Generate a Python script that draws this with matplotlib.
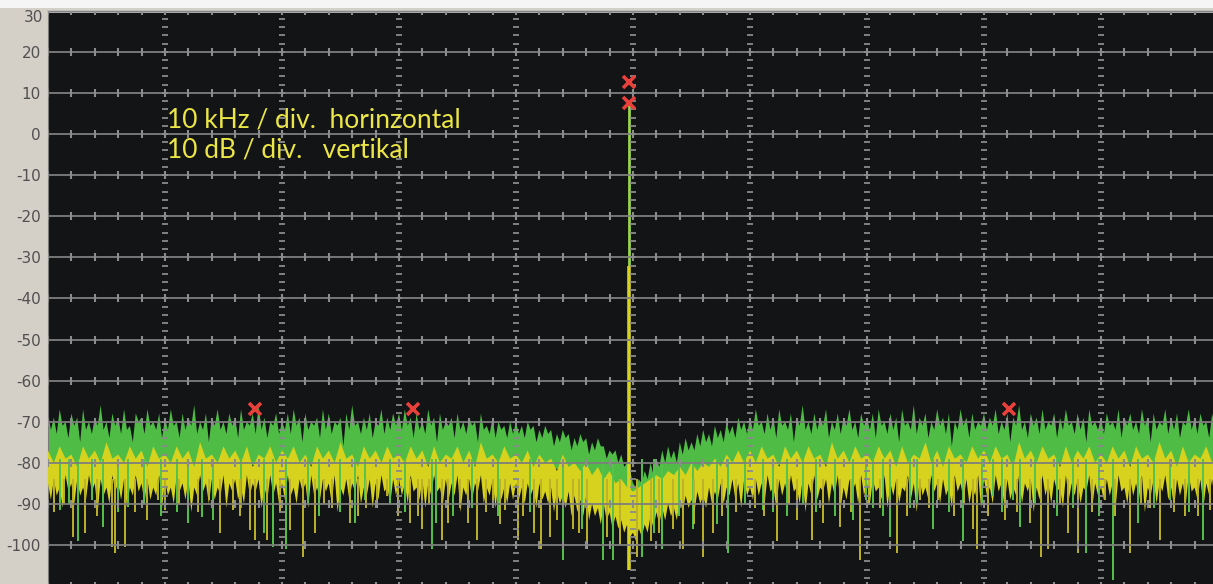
import numpy as np
import matplotlib
matplotlib.use('Agg')
from matplotlib import pyplot as plt
from matplotlib.patches import Rectangle

# frequency offset bins (kHz), levels in dB
x_q = np.arange(-50, 50.01, 0.25)      # 401 bins
x_h = np.arange(-50, 50.01, 0.5)       # 201 bins
x_c = np.arange(-50, 50.01, 1.0)       # 101 bins

# upper edge of the green trace (0.25 kHz)
green_top = [
    -68, -72, -69, -73, -67, -71, -70, -74, -68, -71, -69, -75, -67, -72, -70, -73, -69, -71, -66, -72,
    -70, -74, -68, -71, -69, -73, -67, -72, -71, -75, -68, -70, -69, -73, -67, -71, -70, -72, -68, -74,
    -69, -72, -67, -71, -70, -74, -68, -72, -69, -71, -66, -73, -70, -72, -68, -75, -69, -71, -67, -72,
    -70, -73, -68, -71, -69, -74, -67, -72, -70, -71, -68, -73, -66, -72, -69, -74, -70, -71, -68, -73,
    -70, -72, -68, -73, -67, -71, -69, -75, -68, -72, -70, -71, -69, -74, -67, -72, -68, -73, -70, -71,
    -69, -76, -68, -72, -66, -71, -70, -73, -69, -72, -68, -74, -70, -71, -67, -73, -69, -72, -68, -71,
    -68, -72, -67, -71, -69, -74, -68, -72, -70, -73, -67, -71, -69, -75, -68, -72, -70, -71, -69, -74,
    -68, -72, -70, -73, -69, -71, -70, -75, -68, -72, -71, -73, -69, -74, -70, -72, -71, -74, -70, -73,
    -70, -73, -71, -74, -70, -72, -71, -75, -72, -74, -71, -73, -72, -76, -73, -75, -72, -74, -73, -77,
    -74, -76, -73, -75, -74, -78, -75, -77, -74, -76, -76, -79, -77, -78, -77, -80, -78, -81, -80, -82,
    -85, -86, -84, -85, -82, -84, -80, -83, -79, -81, -77, -80, -76, -79, -77, -80, -75, -78, -74, -77,
    -75, -77, -73, -76, -72, -75, -73, -76, -71, -74, -72, -75, -70, -73, -71, -74, -69, -72, -70, -73,
    -69, -72, -67, -71, -70, -73, -68, -72, -69, -74, -67, -71, -70, -72, -68, -75, -69, -71, -66, -72,
    -70, -73, -68, -72, -69, -71, -67, -74, -70, -72, -68, -73, -69, -71, -67, -72, -70, -74, -68, -71,
    -69, -72, -68, -74, -67, -71, -70, -73, -68, -72, -69, -75, -67, -71, -70, -72, -66, -73, -69, -71,
    -68, -74, -70, -72, -67, -71, -69, -73, -68, -76, -70, -72, -67, -71, -69, -74, -68, -72, -70, -71,
    -68, -72, -69, -71, -67, -73, -70, -72, -68, -75, -69, -71, -66, -72, -70, -74, -68, -71, -69, -73,
    -67, -72, -70, -71, -68, -74, -69, -72, -67, -71, -70, -73, -68, -72, -69, -75, -67, -71, -70, -72,
    -69, -73, -68, -71, -70, -72, -67, -74, -69, -71, -68, -72, -70, -73, -67, -71, -69, -75, -68, -72,
    -70, -71, -67, -73, -69, -72, -68, -74, -70, -71, -67, -72, -69, -73, -68, -71, -70, -74, -68, -72,
    -69,
]
# lower edge of the green trace, mostly hidden under the yellow one (1 kHz)
green_bot = [
    -81, -80, -82, -81, -80, -82, -81, -80, -81, -82,
    -80, -81, -82, -80, -81, -81, -82, -80, -81, -80,
    -82, -81, -80, -81, -82, -80, -81, -82, -81, -80,
    -81, -82, -80, -81, -80, -82, -81, -80, -82, -81,
    -81, -80, -82, -81, -82, -83, -84, -85, -86, -87,
    -88, -88, -87, -85, -84, -83, -82, -82, -81, -81,
    -80, -82, -81, -80, -81, -82, -80, -81, -82, -81,
    -81, -80, -82, -81, -80, -81, -82, -80, -81, -82,
    -80, -81, -82, -80, -81, -82, -81, -80, -81, -80,
    -82, -81, -80, -81, -82, -80, -81, -82, -80, -81,
    -81,
]
# upper edge of the yellow trace (0.5 kHz)
yellow_top = [
    -77, -80, -76, -79, -78, -81, -76, -79, -77, -80, -75, -79, -78, -80, -76, -79, -77, -81, -76, -79,
    -78, -80, -76, -79, -77, -81, -75, -79, -78, -80, -76, -79, -77, -80, -76, -81, -78, -79, -76, -80,
    -77, -79, -76, -80, -78, -81, -76, -79, -77, -80, -75, -79, -78, -81, -76, -79, -77, -80, -76, -79,
    -78, -80, -76, -79, -77, -81, -76, -80, -78, -79, -76, -80, -77, -81, -75, -79, -78, -80, -76, -79,
    -78, -80, -77, -81, -78, -80, -79, -82, -78, -81, -80, -82, -80, -83, -81, -84, -82, -85, -84, -86,
    -87, -86, -85, -84, -83, -84, -82, -83, -81, -83, -80, -82, -80, -81, -79, -81, -78, -80, -77, -80,
    -77, -80, -76, -79, -78, -81, -76, -79, -77, -80, -76, -79, -78, -81, -75, -79, -77, -80, -76, -79,
    -78, -80, -76, -79, -77, -81, -76, -80, -78, -79, -75, -80, -77, -81, -76, -79, -78, -80, -76, -79,
    -77, -80, -76, -79, -78, -81, -75, -79, -77, -80, -76, -79, -78, -81, -76, -80, -77, -79, -76, -80,
    -78, -80, -76, -79, -77, -81, -76, -79, -78, -80, -75, -79, -77, -81, -76, -80, -78, -79, -76, -80,
    -77,
]
# lower edge of the yellow trace (0.25 kHz)
yellow_bot = [
    -85, -89, -84, -88, -86, -91, -83, -87, -85, -90, -84, -88, -86, -89, -83, -87, -85, -92, -84, -88,
    -86, -90, -83, -87, -85, -89, -84, -91, -86, -88, -83, -87, -85, -90, -84, -89, -86, -88, -83, -91,
    -84, -88, -86, -90, -83, -87, -85, -89, -84, -92, -86, -88, -83, -87, -85, -90, -84, -89, -86, -88,
    -83, -91, -85, -87, -84, -89, -86, -90, -83, -88, -85, -87, -84, -91, -86, -89, -83, -88, -85, -90,
    -85, -89, -83, -88, -86, -90, -84, -87, -85, -91, -83, -88, -86, -89, -84, -87, -85, -90, -83, -92,
    -86, -88, -84, -89, -85, -87, -83, -90, -86, -88, -84, -91, -85, -89, -83, -87, -86, -90, -84, -88,
    -84, -88, -85, -90, -83, -87, -86, -89, -84, -91, -85, -88, -83, -87, -86, -90, -84, -89, -85, -88,
    -83, -92, -86, -88, -84, -89, -85, -87, -83, -90, -86, -88, -84, -91, -85, -89, -86, -90, -85, -89,
    -85, -89, -86, -90, -85, -88, -86, -91, -85, -89, -87, -90, -86, -92, -87, -90, -88, -91, -87, -93,
    -88, -92, -89, -93, -88, -94, -90, -93, -91, -95, -90, -94, -92, -96, -93, -96, -94, -97, -95, -98,
    -97, -99, -96, -98, -95, -97, -93, -96, -92, -95, -91, -94, -90, -93, -91, -94, -89, -92, -88, -91,
    -89, -92, -87, -90, -88, -91, -86, -90, -87, -89, -85, -90, -86, -88, -84, -89, -85, -91, -84, -88,
    -86, -89, -84, -88, -85, -90, -83, -87, -86, -91, -84, -88, -85, -89, -83, -87, -86, -90, -84, -92,
    -85, -88, -83, -89, -86, -87, -84, -90, -85, -88, -83, -91, -86, -89, -84, -87, -85, -90, -83, -88,
    -85, -90, -84, -87, -86, -89, -83, -91, -85, -88, -84, -90, -86, -87, -83, -89, -85, -92, -84, -88,
    -86, -89, -83, -87, -85, -90, -84, -88, -86, -91, -83, -87, -85, -89, -84, -90, -86, -88, -83, -91,
    -84, -88, -86, -90, -83, -87, -85, -91, -84, -89, -86, -88, -83, -90, -85, -87, -84, -92, -86, -89,
    -83, -88, -85, -90, -84, -87, -86, -91, -83, -89, -85, -88, -84, -90, -86, -87, -83, -91, -85, -88,
    -86, -89, -84, -88, -85, -91, -83, -87, -86, -90, -84, -88, -85, -89, -83, -92, -86, -88, -84, -90,
    -85, -87, -83, -89, -86, -91, -84, -88, -85, -90, -83, -87, -86, -89, -84, -91, -85, -88, -84, -90,
    -86,
]

# single-bin dips below the noise bands
green_spike_x = [-49.0, -48.2, -47.4, -46.2, -45.3, -44.0, -43.2, -41.8, -40.3, -39.0, -38.0, -36.8,
                 -35.9, -33.5, -31.5, -30.8, -29.7, -27.8, -26.8, -25.0, -23.8, -22.9, -20.8, -19.5,
                 -17.2, -16.8, -15.4, -13.8, -11.5, -8.8, -6.0, -4.4, -2.6, -1.7, 0.8, 1.8, 2.5, 3.9,
                 5.1, 7.2, 8.1, 9.6, 11.1, 12.0, 13.2, 14.5, 15.6, 17.3, 18.8, 19.9, 20.5, 21.4, 22.0,
                 23.7, 24.3, 25.6, 27.0, 28.2, 29.8, 30.8, 31.5, 32.5, 33.1, 34.4, 36.2, 37.6, 38.7,
                 39.8, 41.0, 43.2, 44.5, 45.9, 47.5, 48.7]
green_spike_db = [-91.5, -90, -99, -89, -95.6, -92, -90.8, -90, -93, -92, -94.7, -93.2,
                  -94, -91, -97, -100.5, -101, -90, -93, -92, -94.7, -89, -90, -92,
                  -101, -94.7, -93, -91, -93, -92, -103.6, -96, -103.6, -103.6, -103, -97, -101, -93,
                  -96, -95, -102, -90, -91.5, -92, -93, -90, -92, -93, -94, -89, -91, -93, -98,
                  -91, -90, -96, -92, -99, -90, -88, -92, -89, -95.5, -90, -93, -91, -102,
                  -93, -108.5, -94.7, -91, -89, -92, -98.8]
yellow_spike_x = [-49.5, -48.6, -47.9, -46.8, -45.8, -44.5, -44.3, -43.4, -42.6, -41.5, -40.6, -40.0,
                  -38.8, -37.2, -36.2, -35.3, -34.2, -33.6, -32.7, -32.3, -31.3, -30.2, -29.3, -28.2,
                  -27.2, -26.4, -25.7, -24.2, -23.5, -22.8, -21.9, -21.0, -20.1, -19.1, -18.4, -18.0,
                  -17.4, -16.3, -15.8, -14.8, -14.1, -13.3, -12.6, -12.0, -11.4, -10.9, -9.8, -9.4,
                  -8.5, -7.9, -7.1, -6.5, -5.1, -4.6, -3.9, -2.2, -1.1, 0.3, 1.5, 2.2, 3.4, 4.3, 5.2,
                  6.0, 6.8, 7.6, 8.8, 10.4, 11.2, 12.3, 13.3, 14.0, 15.3, 16.2, 17.7, 18.6, 19.4, 20.2,
                  21.1, 22.6, 23.4, 24.5, 25.3, 26.1, 27.4, 28.3, 29.1, 29.4, 30.3, 31.8, 32.8, 33.9,
                  34.9, 35.5, 36.5, 37.2, 38.0, 39.2, 40.3, 41.2, 42.5, 43.4, 44.2, 45.0, 46.2, 47.2,
                  48.3, 49.3]
yellow_spike_db = [-92, -90, -98, -97, -93, -100.5, -102, -100.5, -92, -94, -89, -91.5,
                   -90, -92, -89, -97, -91.5, -93, -96.4, -98.8, -98.8, -92, -96.4, -103,
                   -97, -90, -91, -94.7, -93, -91, -91, -88, -93, -94.7, -93, -96,
                   -90, -98.8, -94.7, -91, -94.7, -98.8, -92, -89, -95, -91.5, -98.8, -93,
                   -97, -101, -98, -94, -96, -97, -101, -98, -100, -103, -99, -97, -96, -101, -95,
                   -103, -97, -93, -92, -91, -93, -99, -90, -94, -98.8, -94.7, -95.5, -92, -103.6, -90,
                   -91, -102, -93, -89, -91, -89, -93, -90, -96, -101, -93, -94, -92, -94.7,
                   -103, -101, -90, -97, -102, -92, -89, -93, -102, -90, -91, -98.8, -92, -93,
                   -93, -91.5]

carrier_x = -0.3
carrier_db = 8
marker_x = [-32.3, -18.8, -0.3, -0.3, 32.1]
marker_db = [-66.9, -66.9, 12.7, 7.5, -66.9]

ytick_vals = [20, 10, 0, -10, -20, -30, -40, -50, -60, -70, -80, -90, -100]

BG = '#121416'
GRID = '#7e7e7e'
GREEN = '#4fbd45'
YELLOW = '#d6d21e'
TEXT_Y = '#ebe545'

fig = plt.figure(figsize=(12.13, 5.84), dpi=100)
fig.patch.set_facecolor('#d4d0c8')
fig.patches.append(Rectangle((0, 1 - 8 / 584), 1, 8 / 584, transform=fig.transFigure,
                             facecolor='#f5f5f5', edgecolor='none', zorder=-1))

ax = fig.add_axes([48 / 1213, 0, 1165 / 1213, (584 - 10.7) / 584])
ax.set_facecolor(BG)
ax.set_xlim(-50, -50 + 1165 / 11.7)
ax.set_ylim((134 - 584) / 4.11, 30)

# noise bands, green trace under the yellow one
ax.fill(np.concatenate([x_q, x_c[::-1]]), np.concatenate([green_top, green_bot[::-1]]),
        color=GREEN, lw=0, zorder=2)
ax.fill(np.concatenate([x_h, x_q[::-1]]), np.concatenate([yellow_top, yellow_bot[::-1]]),
        color=YELLOW, lw=0, zorder=3)
ax.vlines(green_spike_x, green_spike_db, -79, color='#55c24c', lw=1.4, zorder=3.5)
ax.vlines(yellow_spike_x, yellow_spike_db, -84, color='#bdb22a', lw=1.4, zorder=4)

# carrier
ax.vlines(carrier_x, -32, carrier_db, color='#9ad44a', lw=2.0, zorder=5)
ax.vlines(carrier_x, -106, -32, color=YELLOW, lw=2.6, zorder=5)

ax.plot(marker_x, marker_db, ls='none', marker='x', ms=9, mew=2.6, color='#e8403a', zorder=8)

# screen graticule
for lev in range(-110, 31, 10):
    ax.axhline(lev, color=GRID, lw=1.3, zorder=6)
tick_x = np.arange(-50, 51, 2)
for lev in range(-110, 31, 10):
    ax.plot(tick_x, np.full(len(tick_x), lev), ls='none', marker='|', ms=6, mew=1.5,
            color='#8c8c8c', zorder=6)
dash_y = np.arange(-110, 31, 2)
for xv in range(-40, 41, 10):
    ax.plot(np.full(len(dash_y), xv), dash_y, ls='none', marker='_', ms=4, mew=1.3,
            color='#8a8a8a', zorder=6)

ax.set_xticks([])
ax.set_yticks(ytick_vals)
ax.set_yticklabels([str(v) for v in ytick_vals])
ax.tick_params(axis='y', length=0, pad=5, labelsize=11, labelcolor='#505050')
fig.text(43 / 1213, 1 - 17 / 584, '30', ha='right', va='center', fontsize=11, color='#505050')

for side in ['right', 'bottom']:
    ax.spines[side].set_visible(False)
ax.spines['top'].set_color('#bcbcbc')
ax.spines['top'].set_linewidth(2)
ax.spines['left'].set_color('#7a7a7a')

ax.text(-39.8, 1.5, '10 kHz / div.  horinzontal', color=TEXT_Y, fontsize=19,
        family='Lato', ha='left', va='baseline', zorder=9)
ax.text(-39.8, -5.6, '10 dB / div.   vertikal', color=TEXT_Y, fontsize=19,
        family='Lato', ha='left', va='baseline', zorder=9)

plt.savefig('out.png', dpi=100, facecolor=fig.get_facecolor())
